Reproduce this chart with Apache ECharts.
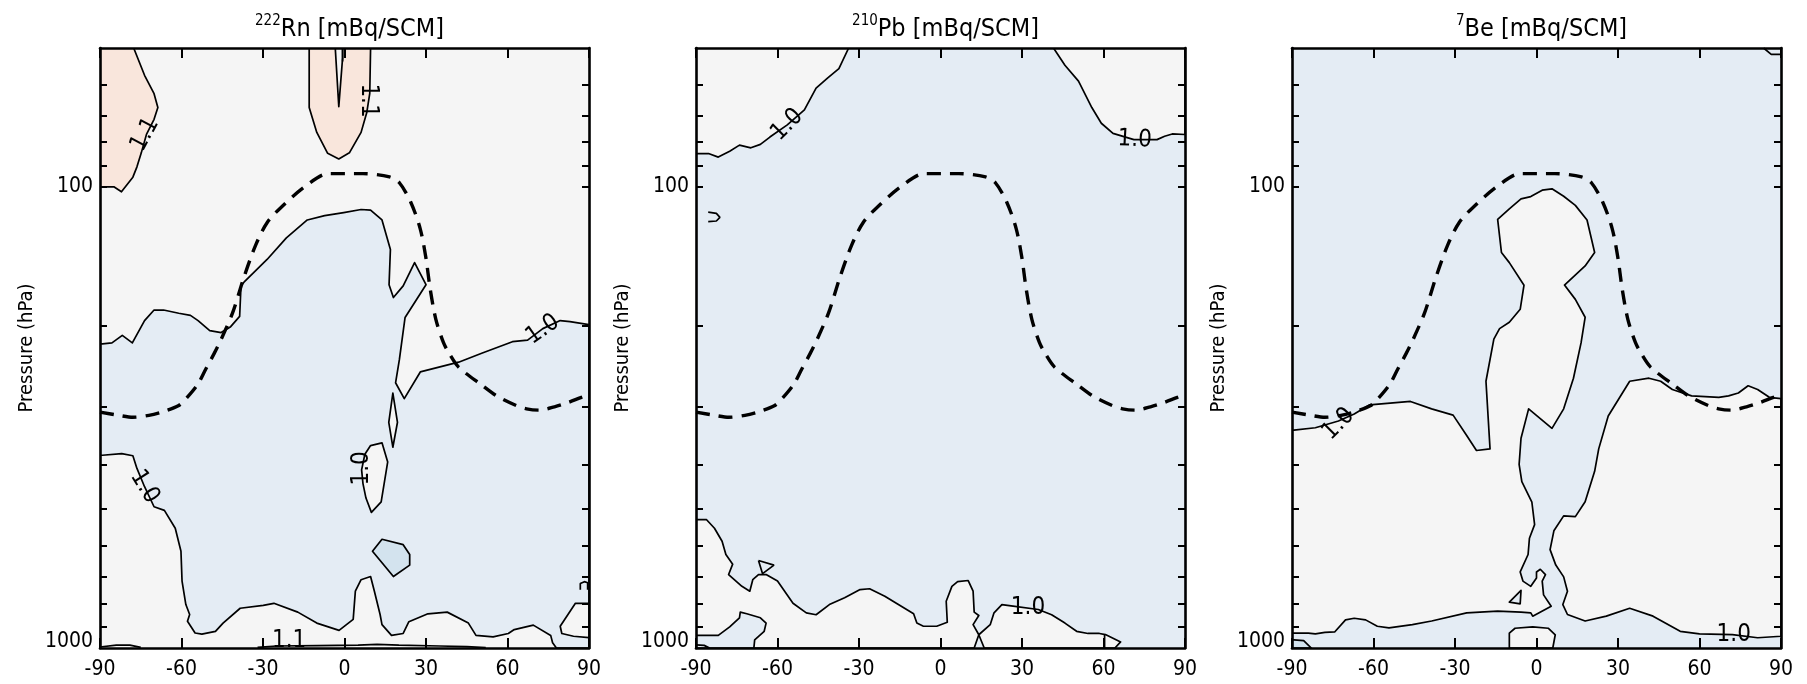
<!DOCTYPE html>
<html><head><meta charset="utf-8">
<script src="https://cdn.jsdelivr.net/npm/echarts@6/dist/echarts.min.js"></script>
<style>html,body{margin:0;padding:0;background:#fff}#c{width:1807px;height:684px}</style>
</head><body><div id="c"></div><script>
// ---------- axis data ----------
var latTicks = [-90, -60, -30, 0, 30, 60, 90];
var pressureLabels = [100, 1000];
var pressureTicks = [60, 70, 80, 90, 100, 200, 300, 400, 500, 600, 700, 800, 900];
var titles = ['222|Rn [mBq/SCM]', '210|Pb [mBq/SCM]', '7|Be [mBq/SCM]'];

// ---------- tropopause (dashed, same in all panels) ----------
var tropopause = [[-90,308],[-83,313],[-77.9,316],[-72,313],[-66.6,307],[-61,298],[-58.1,287],[-54,268],[-51,248],[-48,230],[-45.4,214],[-41.2,187.6],[-37,157],[-32.7,133.8],[-28.5,119.6],[-22.8,110],[-14.4,99.7],[-5.9,93.6],[6.8,93.6],[16.6,95.2],[20.2,98],[24.4,108],[27.9,123.5],[30,143],[31.5,166],[33.6,193.5],[36.4,217.5],[38.5,229.6],[42,246],[50.5,269],[56,284],[63.2,298],[67,303],[71.6,305],[77.3,300],[82,294],[87.2,286],[90,282]];

// ---------- 222Rn ----------
var rnOrangeWest = [[-90,50],[-77.6,50],[-73.6,57.3],[-70.1,62.8],[-68.7,67.3],[-70.1,71.4],[-72.9,77],[-74.8,84.4],[-76.4,90.5],[-77.9,95.3],[-82.1,102.5],[-84.9,100],[-90,100]];
var rnOrangeCenter = [[-13,50],[-13,67.3],[-10.2,76.2],[-6.2,84.6],[-2.1,87],[1.8,84.4],[6.1,76.2],[8.2,69],[9.3,62.7],[9.6,50]];
var rnSliver = [[-3.4,50],[-2.1,67],[-0.7,52.5],[-0.7,50]];
var rnBlue = [[-90,219],[-89.1,219],[-85.6,218],[-81.8,210],[-78.1,218],[-73.6,195],[-70.1,185],[-66.6,185],[-61,188],[-56.7,190],[-53.9,195],[-49.6,205],[-45.4,207],[-41.9,201],[-38.6,191],[-38.1,164],[-37,161],[-28.5,143.7],[-21.4,129],[-13.7,118],[-7.3,115.5],[-0.3,113.7],[6.1,112],[9.6,112.3],[13.8,118],[16.9,136.7],[16.4,163],[18,173.8],[21.6,164],[25.8,146],[30,163],[22.3,192],[20.2,237],[18.8,266],[22,288],[27.9,252],[42,240],[50.5,229.6],[61.8,216.7],[67.4,215],[73,203],[79.4,195],[83,196],[90,199],[90,1000],[78,1000],
  [76.6,974],[75.9,939],[69.5,892],[62.5,912],[60.3,930],[54.7,946],[48.4,939],[45.6,883],[37.8,836],[30.7,843],[23.7,877],[21.6,930],[17.3,939],[13.8,890],[13.1,846],[11,753],[9.6,700],[6.1,711],[4,753],[3.2,867],[-2,916],[-10.2,883],[-17.2,836],[-26,800],[-29.9,808],[-38.4,820],[-44.7,883],[-47.5,920],[-52.5,933],[-55,928],[-57.8,875],[-57,846],[-58.4,805],[-59.8,716],[-60.2,617],[-62.3,550],[-66.3,503],[-70.1,494],[-73.6,447],[-76.4,408],[-77.9,383],[-82,379],[-89.1,382],[-90,382]];
var rnWhiteIsland = [[13.8,359],[15.9,395],[13.5,482],[9.9,508],[7.9,473],[6.8,440],[6.3,411],[7.5,380],[9.6,364]];
var rnDiamond = [[17.8,280],[19.5,324],[17.8,367],[16.3,324]];
var rnDarkBlob = [[10.3,617],[13.8,581],[21.6,597],[24,627],[24,661],[18,700]];
var rnRightBump = [[90,800],[85,800],[79.4,897],[80,930],[84.3,943],[90,950]];
var rnLines = [
  [[-0.7,50],[-0.7,53.5]],
  [[86.8,748],[86.8,725],[88.3,718],[89.5,722],[89.5,748]],
  [[-90,995],[-84,986],[-79,986],[-75,997]],
  [[-32,997],[-25,990],[-10,988],[5,986],[12,982],[20,986],[35,990],[45,993],[52,998]]
];
var rnLabels = [[-73.4,77,'1.1',62],[8.8,65,'1.1',-90],[73,204,'1.0',35],[-73.6,447,'1.0',-58],[6.5,408,'1.0',90],[-20.4,966,'1.1',0]];

// ---------- 210Pb ----------
var pbWhiteNW = [[-90,50],[-90,84.7],[-85.4,84.7],[-81.8,86.2],[-77.6,83.7],[-74,81.2],[-69.8,82.3],[-66.3,80.9],[-62.8,78],[-56.4,73.4],[-50.1,68.1],[-45.8,61.1],[-41.6,58.1],[-37.4,55.4],[-33.8,50]];
var pbWhiteNE = [[41.6,50],[45.8,54.5],[50.8,59],[55.7,67.3],[59.2,72.8],[63.5,76.6],[71.2,79],[79.7,79],[82.5,77.7],[85.3,76.8],[90,77],[90,50]];
var pbWhiteSW = [[-90,527],[-86.1,527],[-83.2,550],[-80.4,587],[-79,627],[-76.5,658],[-78,693],[-73.1,735],[-70.2,753],[-69.1,711],[-67,693],[-64.2,693],[-60,716],[-54.3,800],[-49.4,839],[-45.8,847],[-40.9,805],[-35.3,778],[-29.6,747],[-26.1,744],[-20.5,772],[-15.5,805],[-9.9,843],[-8.7,883],[-6.3,897],[-1.4,897],[2.5,879],[2.1,792],[4.2,735],[6.3,718],[10.2,714],[12,753],[12.4,836],[14.1,850],[12,890],[14.1,936],[12.4,1000],[-90,1000]];
var pbWhiteSE = [[14.1,936],[18.3,890],[19.7,839],[22.6,805],[26,810],[36,825],[40.9,847],[45.8,883],[50.1,920],[54.3,930],[58.5,930],[60.7,935],[66.3,970],[64.2,1000],[16.1,1000]];
var pbBlueSW = [[-90,939],[-81.8,939],[-77.6,900],[-74,860],[-73.7,836],[-71.3,843],[-66.3,860],[-64.2,883],[-64.9,920],[-68.4,960],[-68.7,1000],[-90,1000]];
var pbLines = [
  [[-85.5,113.5],[-82.5,114.2],[-81.2,116.5],[-82.5,118.6],[-85.5,119]],
  [[-67,646],[-61.3,661],[-65.5,690],[-67,646]],
  [[60.4,935],[60.4,1000]],
  [[-90,985],[-87,987],[-85,1000]]
];
var pbLabels = [[-56.4,73.4,'1.0',45],[71.5,79,'1.0',-3],[32.2,820,'1.0',0]];

// ---------- 7Be ----------
var beWhiteW = [[-90,337],[-89.3,337],[-81.4,333],[-72.9,322],[-67.1,311],[-61.4,297],[-46.4,292],[-38.6,303],[-30.7,312.6],[-25.7,346],[-22.1,373],[-17.1,370],[-18.6,264],[-15.7,214],[-13.6,203],[-10,196.7],[-6,184.3],[-4.6,163.4],[-10,146],[-12.9,138.8],[-14.3,117.6],[-10,111.6],[-5.7,106.2],[-2.1,105],[2.1,101.7],[5.7,101],[10,104.8],[14.3,109.7],[18.6,118],[21.4,138.8],[17.9,148.4],[10.3,163.3],[14.3,175.4],[17.9,191.8],[16.4,218],[13.6,260],[10,303],[5.7,334],[-2.9,303],[-5.7,351],[-6.4,400],[-5.4,436],[-1.7,483],[-0.7,540],[-2.6,578],[-3.1,627],[-6,684],[-5,716],[-2.1,735],[0,705],[0,684],[1.4,675],[3.3,693],[2.1,716],[2.6,767],[5.4,812],[-1.4,853],[-2.1,839],[-5.7,836],[-14.3,832],[-25.7,839],[-38.6,874],[-45.7,890],[-54.3,904],[-58.6,897],[-62.9,869],[-67.1,862],[-70.3,869],[-74.3,923],[-77.9,925],[-81.4,932],[-84,928],[-89.3,928],[-90,928]];
var beWhiteE = [[34.3,264],[41.4,260],[45.7,264],[50,275],[57.1,284],[67.1,286],[70.7,284],[74.3,280],[77.9,270],[81.4,275],[85.7,286],[90,288],[90,943],[81.4,950],[72.1,935],[60,932],[52.9,920],[42.9,853],[34.3,820],[25.7,853],[17.9,874],[11.4,846],[9.7,805],[11.4,753],[10,701],[7.1,661],[5,612],[6.4,557],[10,517],[14.3,519],[17.9,482],[21.4,414],[22.9,370],[26.4,314]];
var beWhiteBubble = [[-10,1000],[-10,928],[-7.9,906],[-1.4,900],[4.3,906],[6.9,936],[6,1000]];
var beBlueTri = [[-10,795],[-5.7,750],[-6,802]];
var beCornerSW = [[-90,960],[-89.3,960],[-85.7,964],[-82.9,1000],[-90,1000]];
var beLines = [
  [[83.6,50],[86.4,51.6],[90,51.6]]
];
var beLabels = [[-72.9,327,'1.0',45],[72.6,936,'1.0',0]];

// ---------- styles ----------
var C_WHITE = '#f5f5f5', C_BLUE = '#e4ecf4', C_ORANGE = '#f9e6dc', C_DBLUE = '#d3e3ee';
var FONT = '"DejaVu Sans Condensed", "Liberation Sans Narrow", sans-serif';
var gridLefts = [100, 696, 1292];
var gridW = 489, gridTop = 48, gridH = 600;
var baseColors = [C_WHITE, C_BLUE, C_BLUE];

function polygon(gi, pts, fill, z) {
  return {
    type: 'custom', xAxisIndex: gi * 2, yAxisIndex: gi * 2, clip: true, silent: true, z: z || 2,
    data: [pts[0]],
    renderItem: function (params, api) {
      return { type: 'polygon', shape: { points: pts.map(function (q) { return api.coord(q); }) },
        style: { fill: fill, stroke: '#000', lineWidth: 1.7, lineJoin: 'round' } };
    }
  };
}
function line(gi, pts) {
  return { type: 'line', xAxisIndex: gi * 2, yAxisIndex: gi * 2, data: pts, symbol: 'none', silent: true,
    clip: true, z: 3, lineStyle: { color: '#000', width: 1.7 } };
}
function dashed(gi, pts) {
  return { type: 'line', xAxisIndex: gi * 2, yAxisIndex: gi * 2, data: pts, symbol: 'none', silent: true,
    clip: true, z: 4, smooth: 0.3, lineStyle: { color: '#000', width: 3.4, type: [14, 9] } };
}
function labels(gi, arr) {
  return {
    type: 'custom', xAxisIndex: gi * 2, yAxisIndex: gi * 2, clip: false, silent: true, z: 5,
    data: arr.map(function (l) { return [l[0], l[1]]; }),
    renderItem: function (params, api) {
      var l = arr[params.dataIndex];
      var c = api.coord([l[0], l[1]]);
      return { type: 'text', x: c[0], y: c[1], rotation: l[3] * Math.PI / 180,
        style: { text: l[2], fontSize: 24, fontFamily: FONT, fill: '#000', align: 'center', verticalAlign: 'middle' } };
    }
  };
}

var grids = [], xAxes = [], yAxes = [], titleArr = [];
for (var i = 0; i < 3; i++) {
  grids.push({ left: gridLefts[i], top: gridTop, width: gridW, height: gridH, show: true,
    backgroundColor: baseColors[i], borderWidth: 0 });
  var axLine = { show: true, onZero: false, lineStyle: { color: '#000', width: 2.6 } };
  xAxes.push({ type: 'value', gridIndex: i, min: -90, max: 90, interval: 30, position: 'bottom', z: 10,
    axisLine: axLine, splitLine: { show: false },
    axisTick: { inside: true, length: 10, lineStyle: { color: '#000', width: 2 } },
    axisLabel: { color: '#000', fontSize: 21, fontFamily: FONT, margin: 11 } });
  xAxes.push({ type: 'value', gridIndex: i, min: -90, max: 90, interval: 30, position: 'top', z: 10,
    axisLine: axLine, splitLine: { show: false },
    axisTick: { inside: true, length: 10, lineStyle: { color: '#000', width: 2 } },
    axisLabel: { show: false } });
  yAxes.push({ type: 'log', logBase: 10, gridIndex: i, min: 50, max: 1000, inverse: true, position: 'left', z: 10,
    axisLine: axLine, splitLine: { show: false }, minorTick: { show: false },
    name: 'Pressure (hPa)', nameLocation: 'middle', nameGap: 63,
    nameTextStyle: { color: '#000', fontSize: 20, fontFamily: FONT },
    axisTick: { inside: true, length: 7, customValues: pressureTicks, lineStyle: { color: '#000', width: 2 } },
    axisLabel: { color: '#000', fontSize: 21, fontFamily: FONT, margin: 7, customValues: pressureLabels,
      formatter: function (v) { var s = String(Math.round(v)); return v >= 1000 ? '{b|' + s + '}' : s; },
      rich: { b: { color: '#000', fontSize: 21, fontFamily: FONT, padding: [0, 0, 12, 0] } } } });
  yAxes.push({ type: 'log', logBase: 10, gridIndex: i, min: 50, max: 1000, inverse: true, position: 'right', z: 10,
    axisLine: axLine, splitLine: { show: false }, minorTick: { show: false },
    axisTick: { inside: true, length: 7, customValues: pressureTicks, lineStyle: { color: '#000', width: 2 } },
    axisLabel: { show: false } });
  var t = titles[i].split('|');
  titleArr.push({ text: '{s|' + t[0] + '}' + t[1], left: gridLefts[i] + gridW / 2, top: 9, textAlign: 'center',
    textStyle: { color: '#000', fontSize: 25, fontWeight: 'normal', fontFamily: FONT, lineHeight: 30,
      rich: { s: { fontSize: 15, fontFamily: FONT, color: '#000', verticalAlign: 'top', lineHeight: 18 } } } });
}

var series = [];
// panel 0: Rn
series.push(polygon(0, rnBlue, C_BLUE));
series.push(polygon(0, rnOrangeWest, C_ORANGE));
series.push(polygon(0, rnOrangeCenter, C_ORANGE));
series.push(polygon(0, rnSliver, C_WHITE));
series.push(polygon(0, rnWhiteIsland, C_WHITE));
series.push(polygon(0, rnDiamond, C_WHITE));
series.push(polygon(0, rnDarkBlob, C_DBLUE));
series.push(polygon(0, rnRightBump, C_WHITE));
rnLines.forEach(function (l) { series.push(line(0, l)); });
series.push(dashed(0, tropopause));
series.push(labels(0, rnLabels));
// panel 1: Pb
series.push(polygon(1, pbWhiteNW, C_WHITE));
series.push(polygon(1, pbWhiteNE, C_WHITE));
series.push(polygon(1, pbWhiteSW, C_WHITE));
series.push(polygon(1, pbWhiteSE, C_WHITE));
series.push(polygon(1, pbBlueSW, C_BLUE));
pbLines.forEach(function (l) { series.push(line(1, l)); });
series.push(dashed(1, tropopause));
series.push(labels(1, pbLabels));
// panel 2: Be
series.push(polygon(2, beWhiteW, C_WHITE));
series.push(polygon(2, beWhiteE, C_WHITE));
series.push(polygon(2, beWhiteBubble, C_WHITE));
series.push(polygon(2, beBlueTri, C_BLUE));
series.push(polygon(2, beCornerSW, C_DBLUE));
beLines.forEach(function (l) { series.push(line(2, l)); });
series.push(dashed(2, tropopause));
series.push(labels(2, beLabels));

var chart = echarts.init(document.getElementById('c'), null, { renderer: 'canvas' });
chart.setOption({ animation: false, backgroundColor: '#fff', title: titleArr, grid: grids, xAxis: xAxes, yAxis: yAxes, series: series });
</script></body></html>
